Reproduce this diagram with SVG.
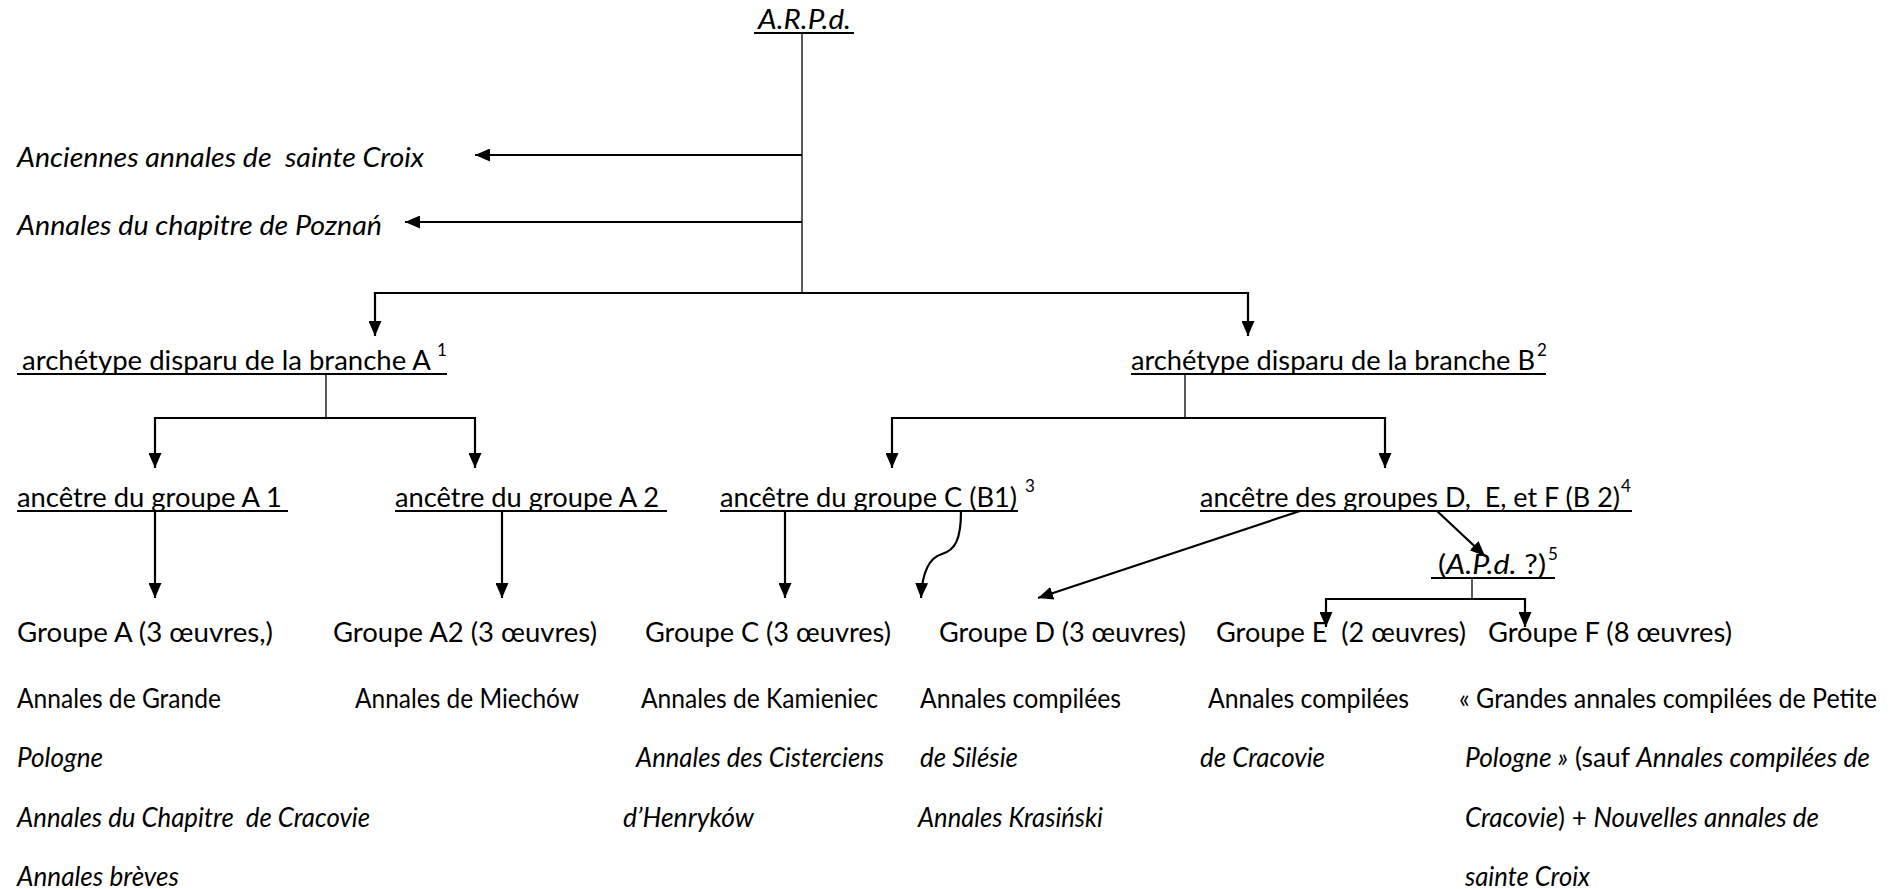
<svg xmlns="http://www.w3.org/2000/svg" width="1894" height="889" viewBox="0 0 1894 889">
<style>
text{font-family:Lato,"Liberation Sans","DejaVu Sans",sans-serif;font-size:27px;fill:#000;white-space:pre;}
.i{font-style:italic;}
.sup{font-size:17px;}
.ul{stroke:#000;stroke-width:2;fill:none;}
.thin{stroke:#000;stroke-width:1.3;fill:none;}
.ln{stroke:#000;stroke-width:2.2;fill:none;}
.ar{stroke:#000;stroke-width:2.2;fill:none;marker-end:url(#ah);}
</style>
<defs>
<marker id="ah" markerUnits="userSpaceOnUse" viewBox="0 0 15 13" markerWidth="15" markerHeight="13" refX="15" refY="6.5" orient="auto">
<path d="M0,0 L15,6.5 L0,13 z" fill="#000"/>
</marker>
</defs>
<rect width="1894" height="889" fill="#fff"/>

<g id="connectors">
<line class="thin" x1="802" y1="34" x2="802" y2="293"/>
<line class="ar" x1="802" y1="155" x2="475" y2="155"/>
<line class="ar" x1="802" y1="222" x2="405" y2="222"/>
<polyline class="ln" points="375,293 1248,293"/>
<line class="ar" x1="375" y1="292" x2="375" y2="336"/>
<line class="ar" x1="1248" y1="292" x2="1248" y2="336"/>
<line class="thin" x1="326" y1="374" x2="326" y2="418"/>
<polyline class="ln" points="155,418 475,418"/>
<line class="ar" x1="155" y1="417" x2="155" y2="468"/>
<line class="ar" x1="475" y1="417" x2="475" y2="468"/>
<line class="thin" x1="1185" y1="374" x2="1185" y2="418"/>
<polyline class="ln" points="892,418 1385,418"/>
<line class="ar" x1="892" y1="417" x2="892" y2="468"/>
<line class="ar" x1="1385" y1="417" x2="1385" y2="468"/>
<line class="ar" x1="155" y1="511" x2="155" y2="598"/>
<line class="ar" x1="502" y1="511" x2="502" y2="598"/>
<line class="ar" x1="785" y1="511" x2="785" y2="598"/>
<path class="ar" d="M961,511 C961,540 955,550 942,554 C928,558 922,575 921,598"/>
<line class="ar" x1="1300" y1="511" x2="1038" y2="598"/>
<line class="ar" x1="1437" y1="511" x2="1485" y2="556"/>
<line class="thin" x1="1472" y1="578" x2="1472" y2="599"/>
<polyline class="ln" points="1326,599 1525,599"/>
<line class="ar" x1="1326" y1="598" x2="1326" y2="627"/>
<line class="ar" x1="1525" y1="598" x2="1525" y2="627"/>
</g>

<g id="arpd">
<text class="i" x="758" y="29" textLength="93" lengthAdjust="spacingAndGlyphs">A.R.P.d.</text>
<line class="ul" x1="754" y1="33" x2="854" y2="33"/>
</g>
<g id="sainte-croix-anciennes">
<text class="i" x="17" y="167" textLength="407" lengthAdjust="spacingAndGlyphs">Anciennes annales de  sainte Croix</text>
</g>
<g id="poznan">
<text class="i" x="17" y="235" textLength="365" lengthAdjust="spacingAndGlyphs">Annales du chapitre de Poznań</text>
</g>

<g id="branche-a">
<text x="22" y="370" textLength="409" lengthAdjust="spacingAndGlyphs">archétype disparu de la branche A</text>
<text class="sup" x="437" y="356">1</text>
<line class="ul" x1="17" y1="374" x2="447" y2="374"/>
</g>
<g id="branche-b">
<text x="1131" y="370" textLength="404" lengthAdjust="spacingAndGlyphs">archétype disparu de la branche B</text>
<text class="sup" x="1537" y="356">2</text>
<line class="ul" x1="1131" y1="374" x2="1546" y2="374"/>
</g>

<g id="ancetre-a1">
<text x="17" y="507" textLength="265" lengthAdjust="spacingAndGlyphs">ancêtre du groupe A 1</text>
<line class="ul" x1="17" y1="511" x2="288" y2="511"/>
</g>
<g id="ancetre-a2">
<text x="395" y="507" textLength="264" lengthAdjust="spacingAndGlyphs">ancêtre du groupe A 2</text>
<line class="ul" x1="395" y1="511" x2="667" y2="511"/>
</g>
<g id="ancetre-c">
<text x="720" y="507" textLength="297" lengthAdjust="spacingAndGlyphs">ancêtre du groupe C (B1)</text>
<text class="sup" x="1025" y="492">3</text>
<line class="ul" x1="720" y1="511" x2="1018" y2="511"/>
</g>
<g id="ancetre-def">
<text x="1200" y="507" textLength="420" lengthAdjust="spacingAndGlyphs">ancêtre des groupes D,  E, et F (B 2)</text>
<text class="sup" x="1621" y="492">4</text>
<line class="ul" x1="1200" y1="511" x2="1632" y2="511"/>
</g>
<g id="apd">
<text x="1438" y="574" textLength="108" lengthAdjust="spacingAndGlyphs">(<tspan class="i">A.P.d.</tspan> ?)</text>
<text class="sup" x="1548" y="560">5</text>
<line class="ul" x1="1431" y1="578" x2="1555" y2="578"/>
</g>

<g id="groupe-a">
<text x="17" y="642" textLength="256" lengthAdjust="spacingAndGlyphs">Groupe A (3 œuvres,)</text>
<text x="17" y="708" textLength="204" lengthAdjust="spacingAndGlyphs">Annales de Grande</text>
<text class="i" x="17" y="767" textLength="86" lengthAdjust="spacingAndGlyphs">Pologne</text>
<text class="i" x="17" y="827" textLength="353" lengthAdjust="spacingAndGlyphs">Annales du Chapitre  de Cracovie</text>
<text class="i" x="17" y="886" textLength="162" lengthAdjust="spacingAndGlyphs">Annales brèves</text>
</g>
<g id="groupe-a2">
<text x="333" y="642" textLength="264" lengthAdjust="spacingAndGlyphs">Groupe A2 (3 œuvres)</text>
<text x="355" y="708" textLength="224" lengthAdjust="spacingAndGlyphs">Annales de Miechów</text>
</g>
<g id="groupe-c">
<text x="645" y="642" textLength="246" lengthAdjust="spacingAndGlyphs">Groupe C (3 œuvres)</text>
<text x="641" y="708" textLength="237" lengthAdjust="spacingAndGlyphs">Annales de Kamieniec</text>
<text class="i" x="636" y="767" textLength="248" lengthAdjust="spacingAndGlyphs">Annales des Cisterciens</text>
<text class="i" x="623" y="827" textLength="131" lengthAdjust="spacingAndGlyphs">d’Henryków</text>
</g>
<g id="groupe-d">
<text x="939" y="642" textLength="247" lengthAdjust="spacingAndGlyphs">Groupe D (3 œuvres)</text>
<text x="920" y="708" textLength="201" lengthAdjust="spacingAndGlyphs">Annales compilées</text>
<text class="i" x="920" y="767" textLength="98" lengthAdjust="spacingAndGlyphs">de Silésie</text>
<text class="i" x="918" y="827" textLength="185" lengthAdjust="spacingAndGlyphs">Annales Krasiński</text>
</g>
<g id="groupe-e">
<text x="1216" y="642" textLength="250" lengthAdjust="spacingAndGlyphs">Groupe E  (2 œuvres)</text>
<text x="1208" y="708" textLength="201" lengthAdjust="spacingAndGlyphs">Annales compilées</text>
<text class="i" x="1200" y="767" textLength="125" lengthAdjust="spacingAndGlyphs">de Cracovie</text>
</g>
<g id="groupe-f">
<text x="1488" y="642" textLength="244" lengthAdjust="spacingAndGlyphs">Groupe F (8 œuvres)</text>
<text x="1459" y="708" textLength="418" lengthAdjust="spacingAndGlyphs">« Grandes annales compilées de Petite</text>
<text x="1465" y="767" textLength="405" lengthAdjust="spacingAndGlyphs"><tspan class="i">Pologne »</tspan> (sauf <tspan class="i">Annales compilées de</tspan></text>
<text x="1465" y="827" textLength="354" lengthAdjust="spacingAndGlyphs"><tspan class="i">Cracovie</tspan>) + <tspan class="i">Nouvelles annales de</tspan></text>
<text class="i" x="1465" y="886" textLength="125" lengthAdjust="spacingAndGlyphs">sainte Croix</text>
</g>
</svg>
